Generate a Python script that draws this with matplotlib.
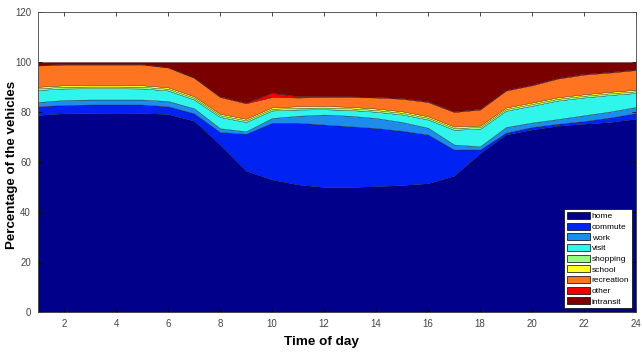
import numpy as np
import matplotlib
matplotlib.use('Agg')
import matplotlib.pyplot as plt

hours = np.arange(1, 25)

# percentage of vehicles per activity, hour 1..24
home = [78.8, 79.5, 79.6, 79.7, 79.6, 79.2, 76.5, 67.0, 56.5, 53.0, 51.0, 50.0,
        50.0, 50.3, 50.8, 51.5, 54.5, 63.5, 71.0, 73.0, 74.5, 75.3, 76.0, 77.3]
commute = [3.5, 3.3, 3.4, 3.3, 3.4, 3.1, 3.0, 5.0, 14.8, 22.7, 24.7, 25.0,
           24.3, 23.3, 21.7, 19.5, 10.5, 1.5, 0.8, 1.0, 0.8, 1.1, 1.8, 2.3]
work = [1.7, 2.0, 2.0, 2.0, 2.0, 2.1, 2.0, 1.5, 1.0, 1.9, 2.8, 4.0,
        4.2, 4.0, 3.5, 2.7, 2.0, 1.3, 2.2, 1.8, 1.9, 2.3, 2.4, 2.4]
visit = [4.8, 4.6, 4.5, 4.5, 4.4, 4.2, 3.5, 4.5, 3.7, 3.0, 2.5, 2.1,
         2.3, 2.5, 3.0, 3.3, 5.9, 7.0, 6.5, 6.7, 7.4, 7.1, 6.6, 5.6]
shopping = [0.7] * 24
school = [0.6] * 24
recreation = [8.5, 8.3, 8.2, 8.2, 8.3, 7.9, 7.4, 6.7, 6.2, 4.1, 3.5, 3.6,
              3.9, 4.4, 5.0, 5.7, 5.8, 6.4, 6.8, 6.9, 7.5, 7.9, 7.7, 7.9]
other = [0.3, 0.2, 0.2, 0.2, 0.2, 0.2, 0.2, 0.3, 0.3, 1.7, 0.6, 0.3,
         0.3, 0.3, 0.3, 0.3, 0.3, 0.3, 0.3, 0.3, 0.3, 0.3, 0.3, 0.3]
intransit = [1.1, 0.8, 0.8, 0.8, 0.8, 2.0, 6.1, 13.7, 16.2, 12.3, 13.6, 13.7,
             13.7, 13.9, 14.4, 15.7, 19.7, 18.7, 11.1, 9.0, 6.3, 4.7, 3.9, 2.9]

labels = ['home', 'commute', 'work', 'visit', 'shopping', 'school',
          'recreation', 'other', 'intransit']
colors = ['#00008b', '#0022f2', '#1e8ceb', '#30f5ea', '#99fa88', '#ffff22',
          '#ff7420', '#ee0000', '#7a0000']

fig = plt.figure(figsize=(6.42, 3.53), dpi=100)
ax = fig.add_axes([0.0592, 0.116, 0.9315, 0.85])

polys = ax.stackplot(hours, home, commute, work, visit, shopping, school,
                     recreation, other, intransit, labels=labels, colors=colors,
                     edgecolor='#111111', linewidth=0.2)

ax.set_xlim(1, 24)
ax.set_ylim(0, 120)
ax.set_xticks(np.arange(2, 25, 2))
ax.set_yticks(np.arange(0, 121, 20))
ax.tick_params(direction='in', top=True, right=True, labelsize=7,
               labelcolor='#444444', length=3, width=0.5, pad=5)
for lbl in ax.get_xticklabels() + ax.get_yticklabels():
    lbl.set_family('Liberation Sans')
for s in ax.spines.values():
    s.set_linewidth(0.6)
    s.set_color('#444444')

# axis titles placed on the figure so they are not clipped
fig.text(0.018, 0.533, 'Percentage of the vehicles', rotation=90,
         ha='center', va='center', fontsize=9.6, fontweight='bold',
         family='Liberation Sans')
fig.text(0.5, 0.03, 'Time of day', ha='center', va='center',
         fontsize=9.7, fontweight='bold', family='Liberation Sans')

leg = ax.legend(loc='lower right', bbox_to_anchor=(0.993, 0.013),
                handlelength=2.8, handleheight=0.9, labelspacing=0.28,
                handletextpad=0.2, borderpad=0.3, borderaxespad=0,
                fancybox=False, framealpha=1, edgecolor='k',
                prop={'family': 'Liberation Sans', 'size': 6})
leg.get_frame().set_linewidth(0.5)
for h in leg.legend_handles:
    h.set_edgecolor('k')
    h.set_linewidth(0.5)

fig.savefig('out.png', dpi=100)
